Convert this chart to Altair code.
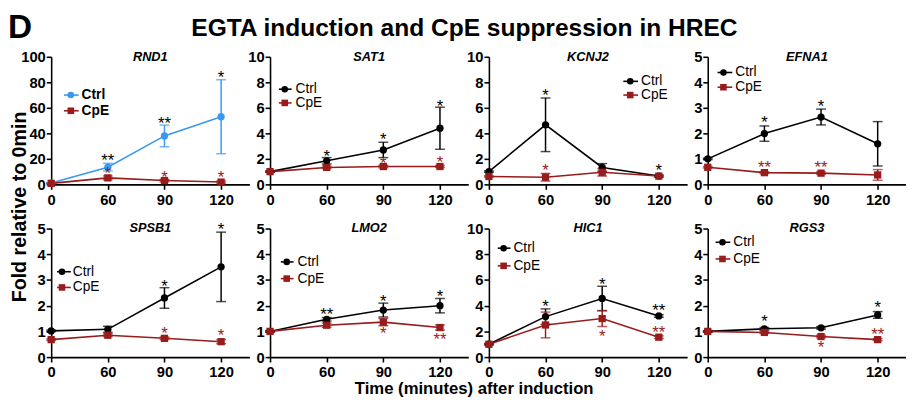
import altair as alt
import pandas as pd

genes = ["RND1", "SAT1", "KCNJ2", "EFNA1", "SPSB1", "LMO2", "HIC1", "RGS3"]
time_labels = ["0", "60", "90", "120"]
series_names = ["Ctrl", "CpE"]
y_max = [100, 10, 10, 5, 5, 5, 10, 5]
y_step = [20, 2, 2, 1, 1, 1, 2, 1]

ctrl_mean = [
    [1.0, 13.5, 38.0, 53.0],
    [1.0, 1.85, 2.7, 4.4],
    [1.0, 4.67, 1.33, 0.65],
    [1.0, 1.99, 2.64, 1.59],
    [1.02, 1.08, 2.3, 3.51],
    [1.0, 1.47, 1.83, 2.0],
    [1.0, 3.15, 4.56, 3.2],
    [1.0, 1.1, 1.14, 1.64],
]
ctrl_err = [
    [0.3, 3.0, 8.5, 29.0],
    [0.05, 0.25, 0.6, 1.65],
    [0.05, 2.1, 0.3, 0.08],
    [0.03, 0.3, 0.31, 0.87],
    [0.03, 0.12, 0.4, 1.35],
    [0.03, 0.07, 0.27, 0.28],
    [0.05, 0.6, 0.95, 0.1],
    [0.03, 0.05, 0.05, 0.13],
]
cpe_mean = [
    [0.8, 5.1, 3.0, 1.8],
    [1.0, 1.33, 1.4, 1.4],
    [0.62, 0.56, 0.95, 0.65],
    [0.67, 0.46, 0.44, 0.37],
    [0.68, 0.85, 0.73, 0.6],
    [1.0, 1.24, 1.36, 1.15],
    [1.0, 2.5, 3.0, 1.55],
    [1.0, 0.96, 0.8, 0.68],
]
cpe_err = [
    [0.2, 1.5, 1.0, 0.8],
    [0.05, 0.1, 0.1, 0.08],
    [0.05, 0.3, 0.3, 0.05],
    [0.03, 0.04, 0.05, 0.21],
    [0.03, 0.05, 0.05, 0.08],
    [0.03, 0.08, 0.14, 0.1],
    [0.05, 1.0, 0.62, 0.1],
    [0.02, 0.04, 0.05, 0.04],
]

# significance marks: gene index, series, time index, y position, text
star_gene = [0, 0, 0, 0, 0, 0,
             1, 1, 1, 1, 1,
             2, 2, 2,
             3, 3, 3, 3,
             4, 4, 4, 4,
             5, 5, 5, 5, 5,
             6, 6, 6, 6, 6,
             7, 7, 7, 7]
star_series = ["Ctrl", "Ctrl", "Ctrl", "CpE", "CpE", "CpE",
               "Ctrl", "Ctrl", "Ctrl", "CpE", "CpE",
               "Ctrl", "Ctrl", "CpE",
               "Ctrl", "Ctrl", "CpE", "CpE",
               "Ctrl", "Ctrl", "CpE", "CpE",
               "Ctrl", "Ctrl", "Ctrl", "CpE", "CpE",
               "Ctrl", "Ctrl", "Ctrl", "CpE", "CpE",
               "Ctrl", "Ctrl", "CpE", "CpE"]
star_time = [1, 2, 3, 1, 2, 3,
             1, 2, 3, 2, 3,
             1, 3, 1,
             1, 2, 1, 2,
             2, 3, 2, 3,
             1, 2, 3, 2, 3,
             1, 2, 3, 2, 3,
             1, 3, 2, 3]
star_y = [21, 50, 86, 11, 8.2, 8,
          2.44, 3.8, 6.4, 1.92, 1.97,
          7.2, 1.33, 1.33,
          2.56, 3.17, 0.79, 0.79,
          2.87, 5.08, 1.05, 0.96,
          1.8, 2.3, 2.5, 1.03, 0.8,
          4.2, 5.9, 3.9, 1.9, 2.15,
          1.5, 2.07, 0.5, 1.0]
star_text = ["**", "**", "*", "*", "*", "*",
             "*", "*", "*", "*", "*",
             "*", "*", "*",
             "*", "*", "**", "**",
             "*", "*", "*", "*",
             "**", "*", "*", "*", "**",
             "*", "*", "**", "*", "**",
             "*", "*", "*", "**"]

# styles
BLUE = "#3a98ef"
BLACK = "#000000"
RED = "#981c1c"
ctrl_colors = [BLUE, BLACK, BLACK, BLACK, BLACK, BLACK, BLACK, BLACK]
FONT = "Liberation Sans"
PW = 202
PH_ROW = [130, 131]
# legend layout per panel: line x0, line x1, marker x, text x, first row y, second row y
legend_pos = [
    (13, 28, 20, 31, 39, 55),
    (9, 22, 15, 26, 33, 47),
    (137, 152, 144, 155, 25, 39),
    (10, 25, 16, 28, 16, 31),
    (6, 20, 11, 22, 44, 60),
    (11, 24, 17, 28, 34, 51),
    (9, 22, 15, 25, 20, 38),
    (8, 23, 15, 26, 14, 31),
]

label_expr = " : ".join(
    [f"datum.value == {i} ? '{t}'" for i, t in enumerate(time_labels)]) + " : ''"


def make_panel(g):
    rows = []
    for s, means, errs in [("Ctrl", ctrl_mean[g], ctrl_err[g]), ("CpE", cpe_mean[g], cpe_err[g])]:
        col = ctrl_colors[g] if s == "Ctrl" else RED
        for i in range(4):
            rows.append(dict(idx=i, value=means[i], lo=means[i] - errs[i],
                             hi=means[i] + errs[i], series=s, col=col))
    df = pd.DataFrame(rows)

    xscale = alt.Scale(domain=[0, 3.5], nice=False, zero=False)
    yscale = alt.Scale(domain=[0, y_max[g]], nice=False)
    xaxis = alt.Axis(values=[0, 1, 2, 3], labelExpr=label_expr, title=None, grid=False,
                     labelFlush=False, labelOverlap=False, labelPadding=3)
    yaxis = alt.Axis(values=list(range(0, y_max[g] + 1, y_step[g])), title=None, grid=False,
                     labelFlush=False, labelOverlap=False, labelPadding=1)
    X = alt.X("idx:Q", scale=xscale, axis=xaxis)

    def Y(f):
        return alt.Y(f, type="quantitative", scale=yscale, axis=yaxis)

    color = alt.Color("col:N", scale=None)
    base = alt.Chart(df)

    lines = base.mark_line(strokeWidth=1.6).encode(
        x=X, y=Y("value"), color=color, detail="series:N")
    bars = base.mark_rule(strokeWidth=1.5).encode(
        x=X, y=Y("lo"), y2="hi:Q", color=color)
    cap_lo = base.mark_tick(orient="horizontal", size=10, thickness=1.5).encode(
        x=X, y=Y("lo"), color=color)
    cap_hi = base.mark_tick(orient="horizontal", size=10, thickness=1.5).encode(
        x=X, y=Y("hi"), color=color)
    points = base.mark_point(filled=True, size=55, opacity=1).encode(
        x=X, y=Y("value"), color=color,
        shape=alt.Shape("series:N", scale=alt.Scale(domain=series_names, range=["circle", "square"]),
                        legend=None))

    srows = []
    for k in range(len(star_gene)):
        if star_gene[k] == g:
            srows.append(dict(idx=star_time[k], y=star_y[k], txt=star_text[k],
                              col=BLACK if star_series[k] == "Ctrl" else RED))
    stars = alt.Chart(pd.DataFrame(srows)).mark_text(
        fontSize=17, baseline="alphabetic", align="center", dy=9, font=FONT).encode(
        x=X, y=Y("y"), text="txt:N", color=alt.Color("col:N", scale=None))

    title = alt.Chart(pd.DataFrame({"t": [genes[g]]})).mark_text(
        fontSize=13, fontStyle="italic", fontWeight="bold", baseline="middle", align="center",
        font=FONT, color="black").encode(text="t:N", x=alt.value(101), y=alt.value(0))

    layers = [lines, bars, cap_lo, cap_hi, points, stars, title]

    lx0, lx1, mx, tx, ly0, ly1 = legend_pos[g]
    for r, s in enumerate(series_names):
        ly = ly0 if r == 0 else ly1
        col = ctrl_colors[g] if s == "Ctrl" else RED
        ldf = pd.DataFrame({"label": [s]})
        lc = alt.Chart(ldf)
        layers.append(lc.mark_rule(strokeWidth=1.6, color=col).encode(
            x=alt.value(lx0), x2=alt.value(lx1), y=alt.value(ly)))
        layers.append(lc.mark_point(filled=True, size=45, opacity=1, color=col,
                                    shape="circle" if s == "Ctrl" else "square").encode(
            x=alt.value(mx), y=alt.value(ly)))
        layers.append(lc.mark_text(fontSize=14, align="left", baseline="middle", font=FONT,
                                   fontWeight="bold" if g == 0 else "normal", color="black").encode(
            text="label:N", x=alt.value(tx), y=alt.value(ly)))

    if g == 0:
        ann = alt.Chart(pd.DataFrame({
            "t": ["D", "EGTA induction and CpE suppression in HREC",
                  "Fold relative to 0min", "Time (minutes) after induction"]}))
        layers.append(ann.transform_filter("datum.t == 'D'").mark_text(
            fontSize=34, fontWeight="bold", align="left", baseline="alphabetic", font=FONT,
            color="black").encode(text="t:N", x=alt.value(-44), y=alt.value(-19)))
        layers.append(ann.transform_filter("datum.t == 'EGTA induction and CpE suppression in HREC'").mark_text(
            fontSize=25, fontWeight="bold", align="center", baseline="alphabetic", font=FONT,
            color="black").encode(text="t:N", x=alt.value(421), y=alt.value(-21)))
        layers.append(ann.transform_filter("datum.t == 'Fold relative to 0min'").mark_text(
            fontSize=20, fontWeight="bold", align="center", baseline="alphabetic", angle=270,
            font=FONT, color="black").encode(text="t:N", x=alt.value(-26), y=alt.value(153)))
        layers.append(ann.transform_filter("datum.t == 'Time (minutes) after induction'").mark_text(
            fontSize=17, fontWeight="bold", align="center", baseline="alphabetic", font=FONT,
            color="black").encode(text="t:N", x=alt.value(431), y=alt.value(344)))

    return alt.layer(*layers).properties(width=PW, height=PH_ROW[g // 4])


panels = [make_panel(g) for g in range(len(genes))]

chart = alt.concat(*panels, columns=4, spacing={"row": 45, "column": 21}, bounds="flush").properties(
    padding=0
).configure_view(stroke=None).configure_axis(
    labelFont=FONT, labelFontSize=15, labelFontWeight="bold", labelColor="black",
    domainColor="black", domainWidth=1.6, tickColor="black", tickWidth=1.6, tickSize=5,
    labelOverlap=False
).configure_text(font=FONT)

chart.save("out.html", embed_options={"renderer": "svg", "actions": False})
